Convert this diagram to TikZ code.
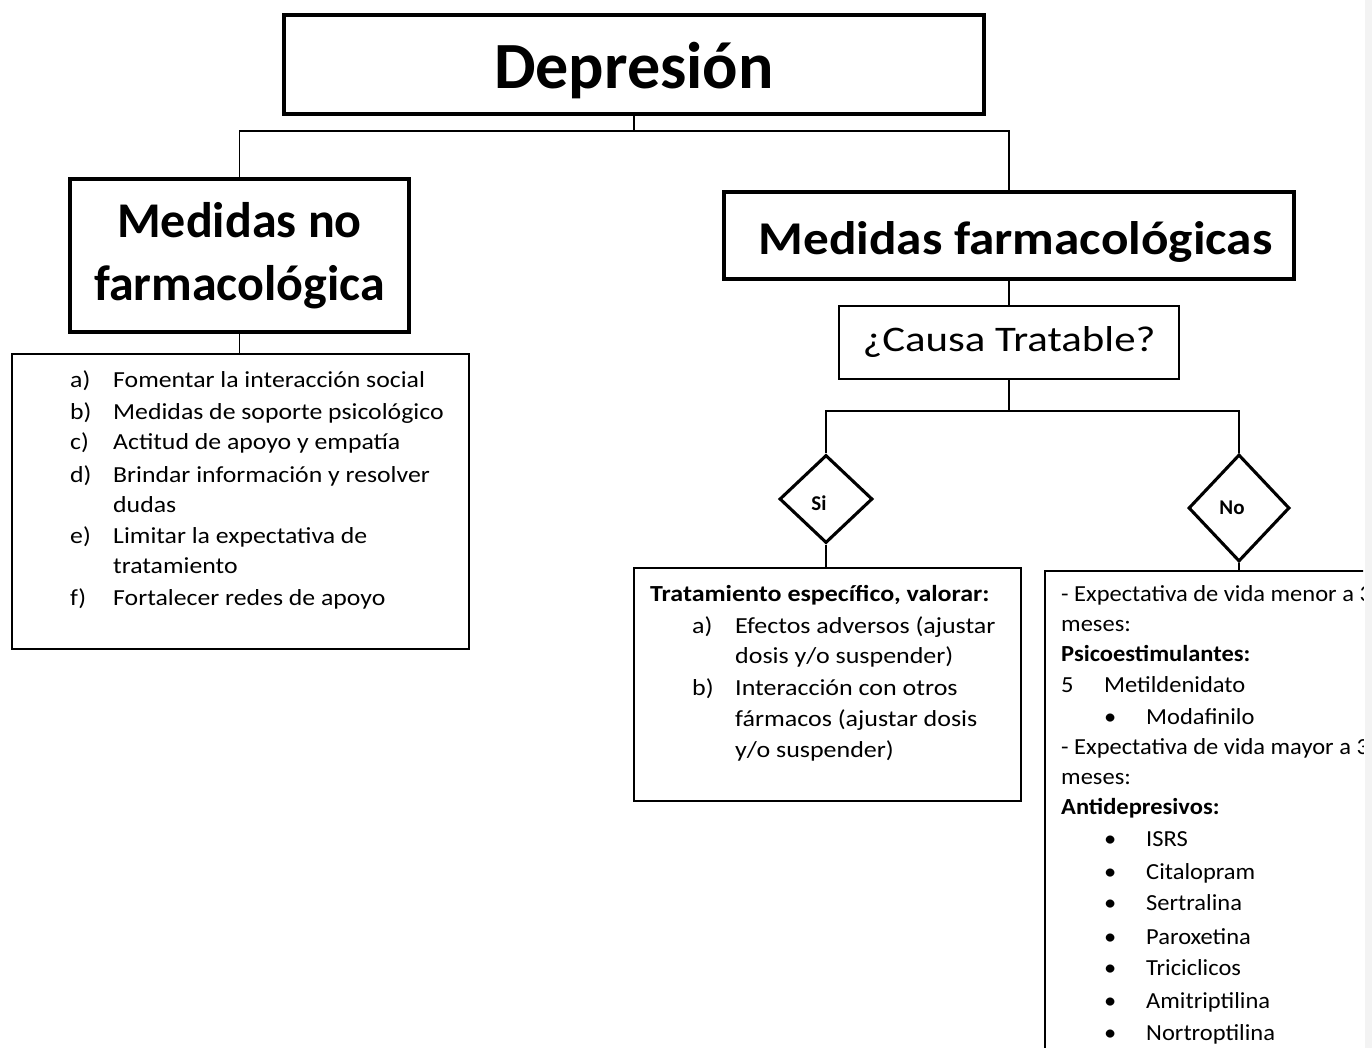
\documentclass[tikz,border=0pt]{standalone}
\usepackage{fontspec}
\setmainfont{Carlito}
\newfontfamily\fleft{Carlito}[FakeStretch=1.12]
\newfontfamily\ftrat{Carlito}[FakeStretch=1.13]
\newfontfamily\fno{Carlito}[FakeStretch=1.065]
\newfontfamily\ffarm{Carlito}[FakeStretch=1.09]
\newfontfamily\fcausa{Carlito}[FakeStretch=1.19]
\usetikzlibrary{shapes.geometric}
\definecolor{strip}{RGB}{243,243,243}
\begin{document}
\begin{tikzpicture}[x=1pt,y=-1pt,
  thickbox/.style={draw, line width=3.5pt, inner sep=0pt, font=\bfseries},
  thinbox/.style={draw, line width=1.9pt, inner sep=0pt},
  dia/.style={draw, diamond, line width=3.1pt, inner sep=0pt},
  conn/.style={line width=1.7pt},
  txt/.style={anchor=base west, inner sep=0pt, font=\fontsize{23}{27}\selectfont},
  ltxt/.style={txt, font=\fontsize{23}{27}\fleft},
  ttxt/.style={txt, font=\fontsize{23}{27}\ftrat},
  ntxt/.style={txt, font=\fontsize{23}{27}\fno},
  dtxt/.style={inner sep=0pt, font=\fontsize{21}{25}\selectfont\bfseries}]
\useasboundingbox (0,0) rectangle (1372,1048);
\fill[white] (0,0) rectangle (1372,1048);
\fill[strip] (1365,0) rectangle (1372,1048);

% title boxes
\node[thickbox, minimum width=700pt, minimum height=99pt] (dep) at (634,64.5) {};
\node[anchor=base, inner sep=0pt, font=\fontsize{66}{70}\selectfont\bfseries] (dept) at (634,89) {Depresión};
\node[thickbox, minimum width=339pt, minimum height=153pt, align=center, font=\fontsize{50}{63}\selectfont\bfseries] (lt) at (239.5,255.5) {Medidas no\\farmacológica};
\node[thickbox, minimum width=570pt, minimum height=87pt] (rt) at (1009,235.5) {};
\node[anchor=base, inner sep=0pt, font=\fontsize{47}{50}\ffarm\bfseries] (rtt) at (1015.5,255) {Medidas farmacológicas};
\node[thinbox, minimum width=340pt, minimum height=73pt, font=\fontsize{36}{40}\fcausa] (causa) at (1009,342.5) {¿Causa Tratable?};

% list boxes
\node[thinbox, minimum width=457pt, minimum height=295pt] (llist) at (240.5,501.5) {};
\node[thinbox, minimum width=387pt, minimum height=233pt] (trat) at (827.5,684.5) {};

% diamonds
\node[dia, minimum width=93pt, minimum height=88pt] (si) at (826,499) {};
\node[dtxt] (sit) at (819,503) {Si};
\node[dia, minimum width=101pt, minimum height=107pt] (no) at (1239,508) {};
\node[dtxt] (not) at (1232,508) {No};

% connectors
\coordinate (j1) at (634,131);
\coordinate (j2) at (1009,411);
\draw[conn] (dep.south) -- (j1);
\draw[conn] (lt.north) |- (j1) -| (rt.north);
\draw[conn] (lt.south) -- (lt.south |- llist.north);
\draw[conn] (rt.south) -- (causa.north);
\draw[conn] (causa.south) -- (j2);
\draw[conn] (si.north) |- (j2) -| (no.north);
\draw[conn] (si.south) -- (si.south |- trat.north);

% left list
\node[ltxt] (la) at (70,387) {a)};   \node[ltxt] (lat) at (113,387) {Fomentar la interacción social};
\node[ltxt] (lb) at (70,419) {b)};   \node[ltxt] (lbt) at (113,419) {Medidas de soporte psicológico};
\node[ltxt] (lc) at (70,449) {c)};   \node[ltxt] (lct) at (113,449) {Actitud de apoyo y empatía};
\node[ltxt] (ld) at (70,482) {d)};   \node[ltxt] (ldt) at (113,482) {Brindar información y resolver};
\node[ltxt] (ld2) at (113,512) {dudas};
\node[ltxt] (le) at (70,543) {e)};   \node[ltxt] (let) at (113,543) {Limitar la expectativa de};
\node[ltxt] (le2) at (113,573) {tratamiento};
\node[ltxt] (lf) at (70,605) {f)};   \node[ltxt] (lft) at (113,605) {Fortalecer redes de apoyo};

% tratamiento list
\node[ttxt, font=\fontsize{23}{27}\ftrat\bfseries] (t0) at (650,601) {Tratamiento específico, valorar:};
\node[ttxt] (ta) at (692,633) {a)};  \node[ttxt] (tat) at (735,633) {Efectos adversos (ajustar};
\node[ttxt] (ta2) at (735,663) {dosis y/o suspender)};
\node[ttxt] (tb) at (692,695) {b)};  \node[ttxt] (tbt) at (735,695) {Interacción con otros};
\node[ttxt] (tb2) at (735,726) {fármacos (ajustar dosis};
\node[ttxt] (tb3) at (735,757) {y/o suspender)};

% No box (cut off at the right)
\begin{scope}
\clip (0,0) rectangle (1363,1048);
\node[thinbox, anchor=north west, minimum width=400pt, minimum height=600pt] (nobox) at (1044,570) {};
\node[ntxt] (n1) at (1061,601) {- Expectativa de vida menor a 3};
\node[ntxt] (n2) at (1061,631) {meses:};
\node[ntxt, font=\fontsize{23}{27}\fno\bfseries] (n3) at (1061,661) {Psicoestimulantes:};
\node[ntxt] (n4a) at (1061,692) {5};  \node[ntxt] (n4) at (1104,692) {Metildenidato};
\node[ntxt] (n5a) at (1104,724) {•}; \node[ntxt] (n5) at (1146,724) {Modafinilo};
\node[ntxt] (n6) at (1061,754) {- Expectativa de vida mayor a 3};
\node[ntxt] (n7) at (1061,784) {meses:};
\node[ntxt, font=\fontsize{23}{27}\fno\bfseries] (n8) at (1061,814) {Antidepresivos:};
\foreach \y/\t [count=\i] in {846/ISRS,879/Citalopram,910/Sertralina,944/Paroxetina,975/Triciclicos,1008/Amitriptilina,1040/Nortroptilina}{
  \node[ntxt] (b\i) at (1104,\y) {•};
  \node[ntxt] (bt\i) at (1146,\y) {\t};
}
\end{scope}
\draw[conn] (no.south) -- (no.south |- nobox.north);
\end{tikzpicture}
\end{document}
